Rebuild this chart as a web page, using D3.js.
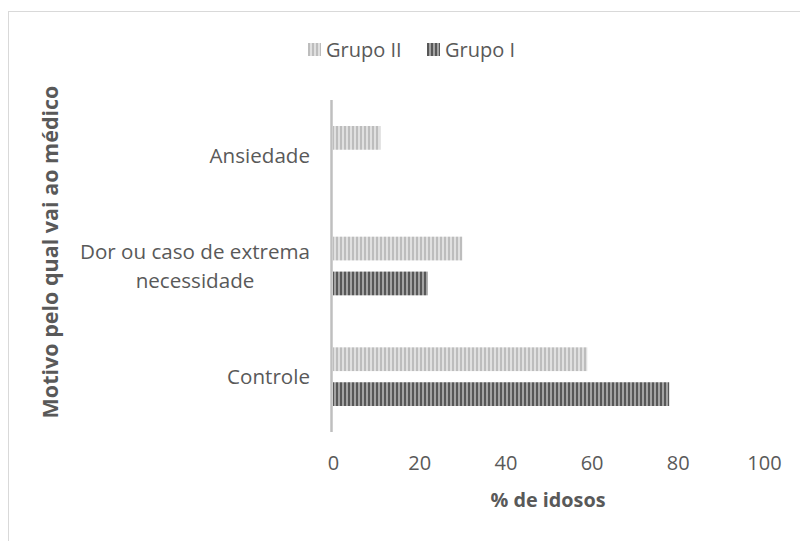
<!DOCTYPE html>
<html>
<head>
<meta charset="utf-8">
<script src="https://cdn.jsdelivr.net/npm/d3@7"></script>
<style>
  body { margin: 0; background: #fff; }
  svg { font-family: "Open Sans", "Noto Sans", sans-serif; }
</style>
</head>
<body>
<svg width="800" height="541"></svg>
<script>
const width = 800,
      height = 541;

// categories top to bottom, series and values (% de idosos)
const categories = ['Ansiedade', 'Dor ou caso de extrema necessidade', 'Controle'];
const categoryLines = [['Ansiedade'], ['Dor ou caso de extrema', 'necessidade'], ['Controle']];
const series = ['Grupo II', 'Grupo I'];
const grupoII = [11, 30, 59];
const grupoI = [0, 22, 78];
const xTicks = [0, 20, 40, 60, 80, 100];

const rows = categories.map((c, i) => ({
  category: c,
  values: [
    { key: 'Grupo II', value: grupoII[i] },
    { key: 'Grupo I', value: grupoI[i] }
  ]
}));

const svg = d3.select('svg');

// chart border
svg.append('rect')
    .attr('x', 8.5)
    .attr('y', 11.5)
    .attr('width', 820)
    .attr('height', 560)
    .attr('fill', 'none')
    .attr('stroke', '#d9d9d9');

const defs = svg.append('defs');

function stripes(id, base, light) {
  const p = defs.append('pattern')
      .attr('id', id)
      .attr('patternUnits', 'userSpaceOnUse')
      .attr('width', 4)
      .attr('height', 4);
  p.append('rect').attr('width', 4).attr('height', 4).attr('fill', base);
  p.append('rect').attr('x', 2).attr('width', 2).attr('height', 4).attr('fill', light);
}
stripes('pat2', '#bdbdbd', '#e0e0e0');
stripes('pat1', '#575757', '#a3a3a3');

const fills = { 'Grupo II': 'url(#pat2)', 'Grupo I': 'url(#pat1)' };

const x = d3.scaleLinear()
    .domain([0, 100])
    .range([333, 764]);

const y0 = d3.scaleBand()
    .domain(categories)
    .range([100, 432])
    .paddingInner(0.47)
    .paddingOuter(0.235);

const y1 = d3.scaleBand()
    .domain(series)
    .range([0, y0.bandwidth()])
    .paddingInner(0.32);

// bars
const groups = svg.append('g')
  .selectAll('g')
  .data(rows)
  .enter()
  .append('g')
    .attr('transform', (d) => `translate(0, ${y0(d.category)})`);

groups.selectAll('rect')
  .data((d) => d.values.filter((v) => v.value > 0))
  .enter()
  .append('rect')
    .attr('x', x(0))
    .attr('y', (d) => y1(d.key))
    .attr('width', (d) => x(d.value) - x(0))
    .attr('height', y1.bandwidth())
    .attr('fill', (d) => fills[d.key]);

// vertical axis line
svg.append('line')
    .attr('x1', x(0) - 1.5)
    .attr('x2', x(0) - 1.5)
    .attr('y1', 100)
    .attr('y2', 432)
    .attr('stroke', '#bfbfbf')
    .attr('stroke-width', 2.5);

// x tick labels
const xAxis = d3.axisBottom(x)
    .tickValues(xTicks)
    .tickSize(0)
    .tickPadding(0);

const gx = svg.append('g')
    .attr('transform', 'translate(0, 470)')
    .call(xAxis);
gx.select('.domain').remove();
gx.selectAll('text')
    .attr('dy', 0)
    .attr('fill', '#595959')
    .style('font-size', '20px')
    .style('font-family', '"Open Sans", "Noto Sans", sans-serif');

// category labels: block right-aligned, lines centred within it
categoryLines.forEach((lines, i) => {
  const cy = y0(categories[i]) + y0.bandwidth() / 2;
  const t = svg.append('text')
      .attr('text-anchor', 'middle')
      .attr('fill', '#595959')
      .style('font-size', '20.6px');
  const spans = lines.map((l, j) => t.append('tspan')
      .attr('y', cy + 7.5 + (j - (lines.length - 1) / 2) * 29)
      .text(l));
  const maxW = d3.max(spans, (s) => s.node().getComputedTextLength());
  spans.forEach((s) => s.attr('x', 310 - maxW / 2));
});

// axis titles
svg.append('text')
    .attr('x', 548)
    .attr('y', 507)
    .attr('text-anchor', 'middle')
    .attr('fill', '#595959')
    .style('font-size', '19.8px')
    .style('font-weight', 'bold')
    .text('% de idosos');

svg.append('text')
    .attr('transform', 'translate(58, 252) rotate(-90)')
    .attr('text-anchor', 'middle')
    .attr('fill', '#595959')
    .style('font-size', '21.5px')
    .style('font-weight', 'bold')
    .text('Motivo pelo qual vai ao médico');

// legend
const legend = svg.append('g')
  .selectAll('g')
  .data(series)
  .enter()
  .append('g')
    .attr('transform', (d, i) => `translate(${[308, 427][i]}, 0)`);

legend.append('rect')
    .attr('y', 43)
    .attr('width', 13)
    .attr('height', 13)
    .attr('fill', (d) => fills[d]);

legend.append('text')
    .attr('x', 18)
    .attr('y', 57)
    .attr('fill', '#595959')
    .style('font-size', '20px')
    .text((d) => d);
</script>
</body>
</html>
